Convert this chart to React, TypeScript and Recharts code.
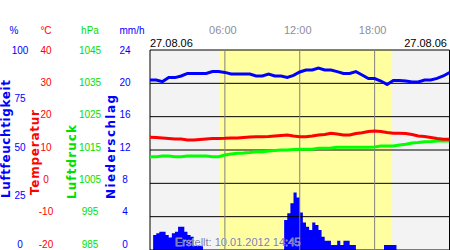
import { Area, ComposedChart, Line, ReferenceArea, ReferenceLine, XAxis, YAxis } from "recharts";

// half-hourly readings, 00:00 .. 24:00
const HUMIDITY = [
  85, 85, 84.2, 86.2, 86.2, 87, 88.3, 88.3, 88.3, 88.3, 89.2, 89.2, 88.8, 88, 88, 88, 88,
  87, 87, 88, 87, 87, 86.3, 87.3, 89, 90, 90, 91, 90, 90, 89.2, 88.3, 88.3, 89.2, 87.5,
  85.7, 85.7, 84.5, 82.8, 84.8, 84.8, 84.5, 84, 84, 85, 85, 85.8, 87, 88.7,
];
const TEMPERATURE = [
  13.8, 13.75, 13.6, 13.45, 13.3, 13.3, 13.0, 13.0, 13.15, 13.3, 13.45, 13.45, 13.5, 13.6,
  13.6, 13.75, 13.9, 14.0, 14.0, 14.05, 14.2, 14.35, 14.5, 14.2, 14.0, 14.0, 14.2, 14.5,
  14.65, 15.0, 14.8, 14.5, 14.5, 14.95, 15.2, 15.55, 15.7, 15.55, 15.25, 15.0, 15.0, 14.95,
  14.65, 14.2, 14.05, 13.75, 13.45, 13.2, 13.2,
];
const PRESSURE = [
  1013, 1013, 1013.2, 1013.2, 1013, 1013, 1013.2, 1013.2, 1013.2, 1013.2, 1013, 1013,
  1013.5, 1013.8, 1014, 1014.1, 1014.25, 1014.5, 1014.5, 1014.7, 1014.85, 1015, 1015,
  1015.15, 1015.2, 1015.2, 1015.2, 1015.5, 1015.5, 1015.6, 1015.8, 1015.8, 1015.8, 1015.8,
  1015.8, 1015.8, 1015.9, 1016.2, 1016.2, 1016.2, 1016.5, 1016.7, 1017.1, 1017.25, 1017.5,
  1017.55, 1017.7, 1017.7, 1017.7,
];
// quarter-hourly rain, mm/h
const PRECIP = [
  0, 1.8, 2.0, 2.2, 2.2, 1.8, 1.5, 2.0, 2.2, 2.8, 2.8, 2.2, 1.8, 1.6, 0.5, 0.5,
  0.5, 0, 0, 0, 0, 0, 0, 0, 0, 0, 0, 0, 0, 0, 0, 0,
  0, 0, 0, 0, 0, 0, 0, 0, 0, 0, 0, 3.6, 4.4, 5.6, 6.9, 6.3,
  4.5, 3.3, 2.8, 2.4, 3.3, 3.0, 2.4, 1.6, 1.1, 1.1, 0.6, 0.6, 1.1, 0.6, 1.1, 1.1,
  0.6, 0.6, 0, 0, 0, 0, 0, 0, 0, 0, 0, 0.6, 0.6, 0.6, 0.6, 0,
  0, 0, 0, 0, 0, 0, 0, 0, 0, 0, 0, 0, 0, 0, 0, 0,
];

const TIME_TICKS = [6, 12, 18];
const HUM_TICKS = [0, 25, 50, 75, 100];
const TEMP_TICKS = [-20, -10, 0, 10, 20, 30, 40];
const PRES_TICKS = [985, 995, 1005, 1015, 1025, 1035, 1045];
const RAIN_TICKS = [0, 4, 8, 12, 16, 20, 24];
const DAYLIGHT = [5.6, 19.4];
const DATE = "27.08.06";
const CREATED = "Erstellt: 10.01.2012 14:45";

const rows = Array.from({ length: PRECIP.length + 1 }, (_, k) => {
  const even = k % 2 === 0;
  return {
    h: k / 4,
    rain: k < PRECIP.length ? PRECIP[k] : 0,
    hum: even ? HUMIDITY[k / 2] : undefined,
    temp: even ? TEMPERATURE[k / 2] : undefined,
    pres: even ? PRESSURE[k / 2] : undefined,
  };
});

const FONT = "'Liberation Sans', Arial, sans-serif";
const BLUE = "#0000ff";
const RED = "#ff0000";
const GREEN = "#00e000";

const yTick = (cx: number, color: string) => (props: any) => {
  const { y, payload } = props;
  const cy = 50 + (y - 50) * 0.97;
  return (
    <text x={cx} y={cy} dy={3.6} textAnchor="middle" fill={color} fontSize={10} fontFamily={FONT}>
      {payload.value}
    </text>
  );
};

const timeTick = (props: any) => {
  const { x, payload } = props;
  const hh = String(payload.value).padStart(2, "0");
  return (
    <text x={x - 2} y={34} textAnchor="middle" fill="#8d8d9d" fontSize={11} fontFamily={FONT}>
      {hh}:00
    </text>
  );
};

const sideLabel = (text: string, x: number, y: number, len: number, color: string) => (
  <text
    transform={`translate(${x},${y}) rotate(-90)`}
    textAnchor="start"
    fill={color}
    fontSize={12}
    fontWeight="bold"
    fontFamily="'DejaVu Sans', sans-serif"
    textLength={len}
    lengthAdjust="spacing"
  >
    {text}
  </text>
);

export default function App() {
  return (
    <div style={{ position: "absolute", left: 0, top: 0, width: 450, height: 250, background: "#fff" }}>
      <ComposedChart width={450} height={250} data={rows} margin={{ top: 0, right: 0.5, bottom: 0, left: 0 }}>
        <XAxis
          dataKey="h"
          type="number"
          domain={[0, 24]}
          ticks={TIME_TICKS}
          orientation="top"
          height={50}
          axisLine={false}
          tickLine={false}
          tick={timeTick}
          allowDataOverflow
        />
        <YAxis yAxisId="hum" domain={[0, 100]} ticks={HUM_TICKS} width={37.5} axisLine={false} tickLine={false} tick={yTick(20, BLUE)} interval={0} allowDataOverflow />
        <YAxis yAxisId="temp" domain={[-20, 40]} ticks={TEMP_TICKS} width={37.5} axisLine={false} tickLine={false} tick={yTick(46, RED)} interval={0} allowDataOverflow />
        <YAxis yAxisId="pres" domain={[985, 1045]} ticks={PRES_TICKS} width={37.5} axisLine={false} tickLine={false} tick={yTick(90, GREEN)} interval={0} allowDataOverflow />
        <YAxis yAxisId="rain" domain={[0, 24]} ticks={RAIN_TICKS} width={37.5} axisLine={false} tickLine={false} tick={yTick(125, BLUE)} interval={0} allowDataOverflow />

        <ReferenceArea yAxisId="temp" x1={0} x2={24} y1={-20} y2={40} fill="#f3f3f3" fillOpacity={1} stroke="none" zIndex={-300} />
        <ReferenceArea yAxisId="temp" x1={DAYLIGHT[0]} x2={DAYLIGHT[1]} y1={-20} y2={40} fill="#ffffa0" fillOpacity={1} stroke="none" zIndex={-250} />

        <Area yAxisId="rain" dataKey="rain" type="stepAfter" fill={BLUE} fillOpacity={1} stroke="none" isAnimationActive={false} zIndex={-200} />

        {TEMP_TICKS.map((t) => (
          <ReferenceLine key={t} yAxisId="temp" y={t} stroke="#000" strokeWidth={1} zIndex={-150} />
        ))}
        <ReferenceLine yAxisId="temp" x={0} stroke="#000" strokeWidth={1} zIndex={-150} />
        <ReferenceLine yAxisId="temp" x={24} stroke="#000" strokeWidth={1} zIndex={-150} />
        {TIME_TICKS.map((t) => (
          <ReferenceLine key={t} yAxisId="temp" x={t} stroke="#808080" strokeWidth={1} zIndex={-150} />
        ))}

        <Line yAxisId="pres" dataKey="pres" stroke="#00ff00" strokeWidth={3} dot={false} connectNulls isAnimationActive={false} />
        <Line yAxisId="temp" dataKey="temp" stroke={RED} strokeWidth={3} dot={false} connectNulls isAnimationActive={false} />
        <Line yAxisId="hum" dataKey="hum" stroke={BLUE} strokeWidth={3} dot={false} connectNulls isAnimationActive={false} />
      </ComposedChart>

      <svg width={450} height={250} style={{ position: "absolute", left: 0, top: 0, pointerEvents: "none" }}>
        <g fontFamily={FONT} fontSize={10} textAnchor="middle">
          <text x={14} y={34} fill={BLUE}>%</text>
          <text x={46} y={34} fill={RED}>°C</text>
          <text x={90} y={34} fill={GREEN}>hPa</text>
          <text x={132} y={34} fill={BLUE}>mm/h</text>
        </g>
        <text x={150} y={47} fontFamily={FONT} fontSize={11} fill="#000">{DATE}</text>
        <text x={447} y={47} fontFamily={FONT} fontSize={11} fill="#000" textAnchor="end">{DATE}</text>
        {sideLabel("Luftfeuchtigkeit", 10, 198, 118, BLUE)}
        {sideLabel("Temperatur", 39, 195, 85, RED)}
        {sideLabel("Luftdruck", 76, 199, 74, GREEN)}
        {sideLabel("Niederschlag", 115, 199, 104, BLUE)}
        <text x={175} y={246} fontFamily={FONT} fontSize={11} fill="#8080a0" stroke="#ffffff" strokeWidth={0.4} paintOrder="stroke">
          {CREATED}
        </text>
      </svg>
    </div>
  );
}
